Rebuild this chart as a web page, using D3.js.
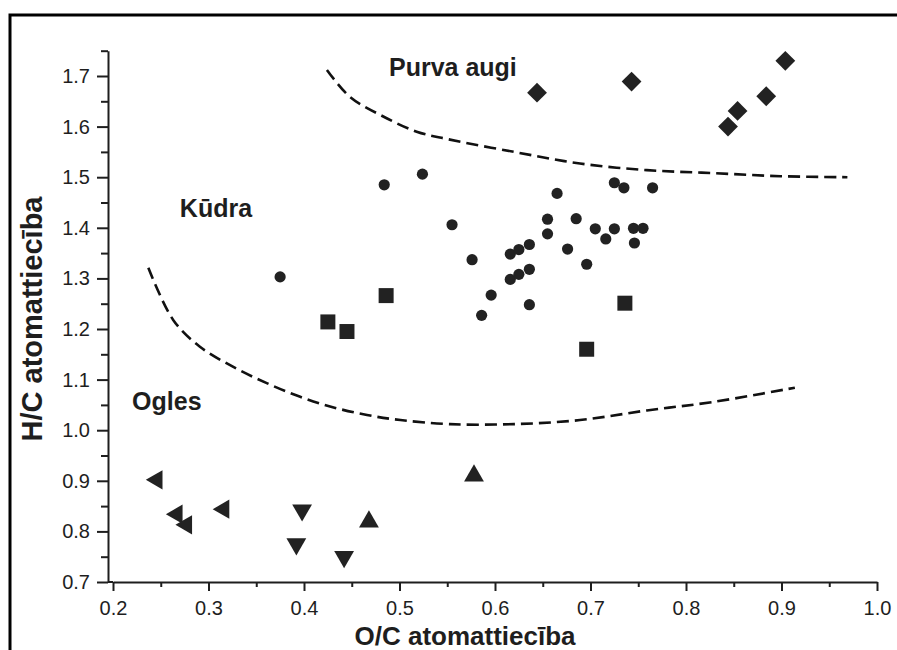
<!DOCTYPE html>
<html>
<head>
<meta charset="utf-8">
<script src="https://cdn.jsdelivr.net/npm/d3@7"></script>
<style>
  html, body { margin: 0; padding: 0; background: #fff; }
  svg { display: block; }
</style>
</head>
<body>
<svg id="chart" width="897" height="650"></svg>
<script>
// ---- data ----
const xTicks = [0.2, 0.3, 0.4, 0.5, 0.6, 0.7, 0.8, 0.9, 1.0];
const xMinorTicks = [0.25, 0.35, 0.45, 0.55, 0.65, 0.75, 0.85, 0.95];
const yTicks = [0.7, 0.8, 0.9, 1.0, 1.1, 1.2, 1.3, 1.4, 1.5, 1.6, 1.7];
const yMinorTicks = [0.75, 0.85, 0.95, 1.05, 1.15, 1.25, 1.35, 1.45, 1.55, 1.65, 1.75];

const xTitle = "O/C atomattiecība";
const yTitle = "H/C atomattiecība";

// Kūdra (peat) – circles
const peatOC = [0.555, 0.576, 0.596, 0.586, 0.616, 0.625, 0.636, 0.616, 0.625, 0.636,
                0.636, 0.655, 0.655, 0.665, 0.676, 0.685, 0.696, 0.705, 0.716, 0.725,
                0.725, 0.735, 0.745, 0.755, 0.746, 0.765, 0.484, 0.524, 0.375];
const peatHC = [1.406, 1.337, 1.267, 1.227, 1.348, 1.357, 1.367, 1.298, 1.308, 1.318,
                1.248, 1.417, 1.388, 1.468, 1.358, 1.418, 1.328, 1.398, 1.378, 1.398,
                1.489, 1.479, 1.399, 1.399, 1.370, 1.479, 1.485, 1.506, 1.303];
// squares
const sqOC = [0.736, 0.696, 0.486, 0.425, 0.445];
const sqHC = [1.251, 1.160, 1.266, 1.214, 1.195];
// diamonds (Purva augi – bog plants)
const diaOC = [0.644, 0.743, 0.904, 0.884, 0.854, 0.844];
const diaHC = [1.667, 1.689, 1.730, 1.660, 1.631, 1.600];
// left-pointing triangles
const ltOC = [0.246, 0.267, 0.277, 0.316];
const ltHC = [0.902, 0.834, 0.813, 0.844];
// down-pointing triangles
const dtOC = [0.398, 0.392, 0.442];
const dtHC = [0.842, 0.775, 0.750];
// up-pointing triangles
const utOC = [0.468, 0.578];
const utHC = [0.819, 0.910];

// dashed boundary curves
const upperCurveOC = [0.424, 0.448, 0.483, 0.518, 0.551, 0.620, 0.689, 0.759, 0.829, 0.899, 0.969];
const upperCurveHC = [1.712, 1.659, 1.620, 1.590, 1.575, 1.550, 1.527, 1.514, 1.508, 1.502, 1.500];
const lowerCurveOC = [0.237, 0.263, 0.291, 0.326, 0.361, 0.396, 0.431, 0.466, 0.501, 0.553, 0.620, 0.689, 0.759, 0.829, 0.914];
const lowerCurveHC = [1.321, 1.218, 1.165, 1.125, 1.093, 1.066, 1.045, 1.030, 1.020, 1.012, 1.012, 1.020, 1.039, 1.056, 1.084];

// region labels
const regionNames = ["Purva augi", "Kūdra", "Ogles"];
const regionOC = [0.489, 0.270, 0.220];
const regionHC = [1.700, 1.421, 1.040];

// ---- drawing ----
const svg = d3.select("#chart");
const ink = "#1e1e1e";
const fontFam = "'Liberation Sans', Arial, Helvetica, sans-serif";

const x = d3.scaleLinear().domain([0.2, 1.0]).range([113, 877]);
const y = d3.scaleLinear().domain([0.7, 1.7]).range([582, 76]);
const yTop = 1.75;

// frame
svg.append("path")
  .attr("d", "M10,650 V15 H897")
  .attr("fill", "none").attr("stroke", "#000").attr("stroke-width", 3);

// x axis: minor ticks then major
const xAxisG = svg.append("g").attr("transform", `translate(0,${y(0.7)})`);
xAxisG.append("g")
  .call(d3.axisBottom(x).tickValues(xMinorTicks).tickSize(5).tickFormat(""))
  .call(g => g.select(".domain").remove());
xAxisG.append("g")
  .call(d3.axisBottom(x).tickValues(xTicks).tickSize(9).tickSizeOuter(0).tickPadding(10)
        .tickFormat(d3.format(".1f")));

// y axis
const yAxisScale = d3.scaleLinear().domain([0.7, yTop]).range([y(0.7), y(yTop)]);
const yAxisG = svg.append("g").attr("transform", `translate(${x(0.2) - 5},0)`);
yAxisG.append("g")
  .call(d3.axisLeft(yAxisScale).tickValues(yMinorTicks).tickSize(7).tickFormat(""))
  .call(g => g.select(".domain").remove());
yAxisG.append("g")
  .call(d3.axisLeft(yAxisScale).tickValues(yTicks).tickSize(11).tickSizeOuter(0).tickPadding(7)
        .tickFormat(d3.format(".1f")));

svg.selectAll(".domain").attr("stroke", ink).attr("stroke-width", 2);
svg.selectAll(".tick line").attr("stroke", ink).attr("stroke-width", 2);
svg.selectAll(".tick text")
  .attr("font-family", fontFam).attr("font-size", 20).attr("fill", ink);

// connect axes at origin
svg.append("line")
  .attr("x1", x(0.2) - 5).attr("x2", x(0.2))
  .attr("y1", y(0.7)).attr("y2", y(0.7))
  .attr("stroke", ink).attr("stroke-width", 2);

// axis titles
svg.append("text")
  .attr("x", 465).attr("y", 645)
  .attr("text-anchor", "middle")
  .attr("font-family", fontFam).attr("font-weight", "bold").attr("font-size", 26)
  .attr("fill", ink)
  .text(xTitle);
svg.append("text")
  .attr("transform", "translate(42,319) rotate(-90)")
  .attr("text-anchor", "middle")
  .attr("font-family", fontFam).attr("font-weight", "bold").attr("font-size", 29)
  .attr("fill", ink)
  .text(yTitle);

// dashed curves
const line = d3.line().x(d => x(d[0])).y(d => y(d[1])).curve(d3.curveCatmullRom.alpha(0.5));
[[upperCurveOC, upperCurveHC], [lowerCurveOC, lowerCurveHC]].forEach(([xs, ys]) => {
  svg.append("path")
    .datum(d3.zip(xs, ys))
    .attr("d", line)
    .attr("fill", "none")
    .attr("stroke", "#111")
    .attr("stroke-width", 2.6)
    .attr("stroke-dasharray", "12,6");
});

// markers
const markFill = "#222";
function drawSymbols(xs, ys, type, size, rot) {
  svg.append("g").selectAll("path")
    .data(d3.zip(xs, ys))
    .join("path")
    .attr("d", d3.symbol().type(type).size(size))
    .attr("transform", d => `translate(${x(d[0])},${y(d[1])}) rotate(${rot})`)
    .attr("fill", markFill);
}
svg.append("g").selectAll("circle")
  .data(d3.zip(peatOC, peatHC))
  .join("circle")
  .attr("cx", d => x(d[0])).attr("cy", d => y(d[1]))
  .attr("r", 5.6).attr("fill", markFill);

drawSymbols(sqOC, sqHC, d3.symbolSquare, 15 * 15, 0);
drawSymbols(diaOC, diaHC, d3.symbolSquare, 14 * 14, 45);
drawSymbols(ltOC, ltHC, d3.symbolTriangle, 160, -90);
drawSymbols(dtOC, dtHC, d3.symbolTriangle, 170, 180);
drawSymbols(utOC, utHC, d3.symbolTriangle, 170, 0);

// region labels
svg.append("g").selectAll("text")
  .data(d3.zip(regionNames, regionOC, regionHC))
  .join("text")
  .attr("x", d => x(d[1])).attr("y", d => y(d[2]))
  .attr("font-family", fontFam).attr("font-weight", "bold").attr("font-size", 25)
  .attr("fill", ink)
  .text(d => d[0]);
</script>
</body>
</html>
